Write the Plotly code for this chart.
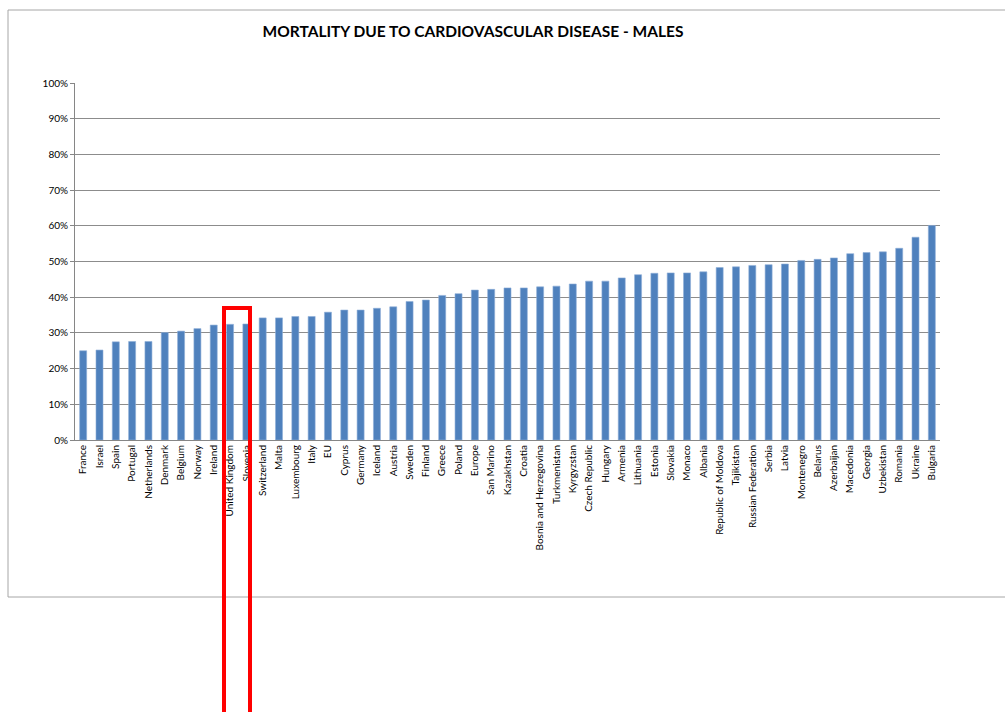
import plotly.graph_objects as go

countries = ["France", "Israel", "Spain", "Portugal", "Netherlands", "Denmark", "Belgium", "Norway",
             "Ireland", "United Kingdom", "Slovenia", "Switzerland", "Malta", "Luxembourg", "Italy", "EU",
             "Cyprus", "Germany", "Iceland", "Austria", "Sweden", "Finland", "Greece", "Poland", "Europe",
             "San Marino", "Kazakhstan", "Croatia", "Bosnia and Herzegovina", "Turkmenistan", "Kyrgyzstan",
             "Czech Republic", "Hungary", "Armenia", "Lithuania", "Estonia", "Slovakia", "Monaco", "Albania",
             "Republic of Moldova", "Tajikistan", "Russian Federation", "Serbia", "Latvia", "Montenegro",
             "Belarus", "Azerbaijan", "Macedonia", "Georgia", "Uzbekistan", "Romania", "Ukraine", "Bulgaria"]

mortality_pct = [25.0, 25.2, 27.5, 27.6, 27.6, 30.1, 30.5, 31.2, 32.2, 32.4, 32.5, 34.2, 34.2, 34.6,
                 34.6, 35.8, 36.4, 36.4, 36.9, 37.3, 38.8, 39.2, 40.5, 41.0, 42.0, 42.2, 42.6, 42.6,
                 42.9, 43.1, 43.7, 44.5, 44.5, 45.4, 46.3, 46.7, 46.8, 46.8, 47.1, 48.3, 48.5, 48.9,
                 49.1, 49.3, 50.3, 50.6, 51.0, 52.2, 52.5, 52.7, 53.7, 56.8, 60.1]

y_ticks = [0, 10, 20, 30, 40, 50, 60, 70, 80, 90, 100]
y_tick_labels = [f"{v}%" for v in y_ticks]

FONT = "Lato, 'Liberation Sans', sans-serif"

fig = go.Figure()
fig.add_trace(go.Bar(
    x=countries, y=mortality_pct,
    marker=dict(color="#4F81BD", line=dict(color="#8EAFD8", width=0.6)),
    hoverinfo="x+y",
))

W, H = 1005, 712
PL, PR, PT, PB = 75, 940, 83, 440  # plot area in page pixels
L, R, T, B = PL, W - PR, PT, H - PB
pw, ph = W - L - R, H - T - B

def px_x(p):
    return (p - PL) / pw

def px_y(p):
    return (PB - p) / ph

shapes = [
    # chart outer border (open on the right, as in the reference crop)
    dict(type="rect", xref="paper", yref="paper",
         x0=px_x(8), x1=px_x(1030), y0=px_y(597), y1=px_y(10),
         line=dict(color="#A6A6A6", width=1), fillcolor="rgba(0,0,0,0)", layer="below"),
    # red highlight box
    dict(type="rect", xref="paper", yref="paper",
         x0=px_x(224), x1=px_x(250), y0=px_y(760), y1=px_y(308),
         line=dict(color="#FF0000", width=4), fillcolor="rgba(0,0,0,0)", layer="above"),
]

fig.update_layout(
    width=W, height=H,
    margin=dict(l=L, r=R, t=T, b=B, autoexpand=False),
    paper_bgcolor="white", plot_bgcolor="white",
    showlegend=False,
    bargap=0.57,
    font=dict(family=FONT, color="#000000"),
    title=dict(text="<b>MORTALITY DUE TO CARDIOVASCULAR DISEASE - MALES</b>",
               x=px_x(473), xref="paper", xanchor="center",
               y=1 - 32 / H, yanchor="middle",
               font=dict(family=FONT, size=15.5, color="#000000")),
    xaxis=dict(
        type="category", tickangle=-90, tickfont=dict(size=10, family=FONT),
        showgrid=False, showline=True, linecolor="#868686", linewidth=1,
        ticks="", ticklen=0, automargin=False,
    ),
    yaxis=dict(
        range=[0, 100], tickvals=y_ticks, ticktext=y_tick_labels,
        tickfont=dict(size=10, family=FONT),
        showgrid=True, gridcolor="#8C8C8C", gridwidth=1,
        showline=True, linecolor="#868686", linewidth=1,
        ticks="outside", ticklen=4, tickcolor="#868686",
        zeroline=False, automargin=False,
    ),
    shapes=shapes,
)

fig.write_html(
    "out.html",
    config={"displayModeBar": False},
    post_script="document.body.style.margin='0';document.body.style.overflow='hidden';",
)
